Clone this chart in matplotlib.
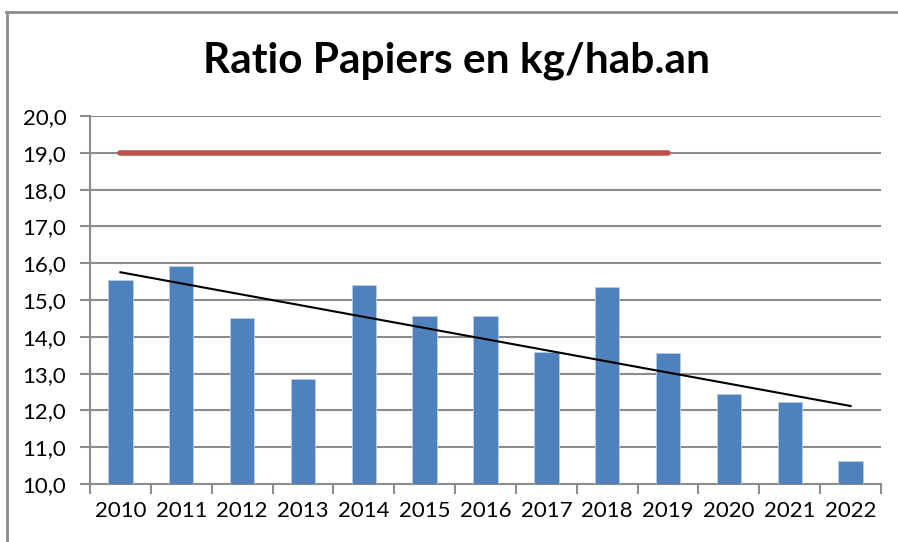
import numpy as np
import matplotlib
matplotlib.use("Agg")
import matplotlib.pyplot as plt
from matplotlib.lines import Line2D
from matplotlib.ticker import FixedLocator, FuncFormatter

years = ["2010", "2011", "2012", "2013", "2014", "2015", "2016", "2017",
         "2018", "2019", "2020", "2021", "2022"]
ratio = [15.54, 15.92, 14.51, 12.85, 15.41, 14.57, 14.57, 13.59,
         15.35, 13.56, 12.45, 12.23, 10.63]
objective_years = years[:10]
objective_value = 19.0

plt.rcParams['font.family'] = ['Lato', 'DejaVu Sans']

fig = plt.figure(figsize=(8.98, 5.42), dpi=100)
ax = fig.add_axes([90/898, 1-484/542, (881-90)/898, (484-116)/542])

x = np.arange(len(years))
ax.bar(x, ratio, width=0.4, bottom=0, color="#4F81BD", edgecolor="#B9CDE5",
       linewidth=0.6, zorder=3)

xo = np.arange(len(objective_years))
ax.plot(xo, [objective_value]*len(xo), color="#C0504D", lw=4,
        solid_capstyle="round", zorder=4)

coef = np.polyfit(x, ratio, 1)
ax.plot(x, np.polyval(coef, x), color="black", lw=1.5, zorder=5)

ax.set_xlim(-0.5, len(years)-0.5)
ax.set_ylim(10, 20)
ax.set_yticks(np.arange(10, 21, 1))
ax.yaxis.set_major_formatter(FuncFormatter(lambda v, p: f"{v:.1f}".replace(".", ",")))
ax.grid(axis="y", color="#8C8C8C", lw=1.5, zorder=0)
ax.set_axisbelow(True)

ax.xaxis.set_major_locator(FixedLocator(np.arange(-0.5, len(years), 1)))
ax.xaxis.set_minor_locator(FixedLocator(x))
ax.set_xticklabels([], minor=False)
ax.set_xticks(x, years, minor=True)
ax.tick_params(axis="x", which="major", length=7, width=1.5, color="#8C8C8C", direction="out")
ax.tick_params(axis="x", which="minor", length=0, pad=12, labelsize=16)
ax.tick_params(axis="y", length=7, width=1.5, color="#8C8C8C", pad=10, labelsize=16)

for s in ["top", "right"]:
    ax.spines[s].set_visible(False)
for s in ["left", "bottom"]:
    ax.spines[s].set_color("#8C8C8C")
    ax.spines[s].set_linewidth(1.5)

fig.text(457/898, 1-61/542, "Ratio Papiers en kg/hab.an", ha="center", va="center",
         fontsize=30.5, fontweight="bold")

fig.add_artist(Line2D([6/898, 1], [1-11.5/542]*2, color="#8C8C8C", lw=2, transform=fig.transFigure))
fig.add_artist(Line2D([6.5/898]*2, [0, 1-11.5/542], color="#8C8C8C", lw=2, transform=fig.transFigure))

fig.savefig("out.png", dpi=100)
